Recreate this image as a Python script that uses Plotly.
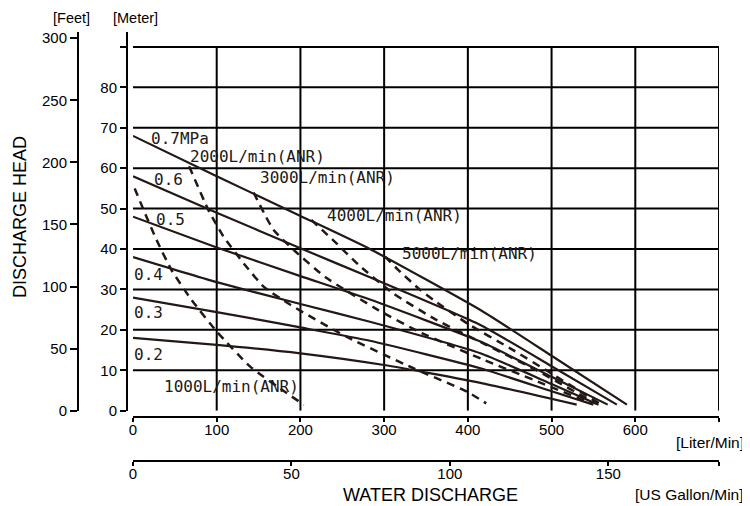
import plotly.graph_objects as go

# ---------------- data ----------------
flow_ticks = [0, 100, 200, 300, 400, 500, 600, 700]          # L/min
flow_labels = ["0", "100", "200", "300", "400", "500", "600", ""]
gal_ticks = [0, 50, 100, 150]                                 # US gal/min
gal_labels = ["0", "50", "100", "150"]
meter_ticks = [0, 10, 20, 30, 40, 50, 60, 70, 80, 90]
meter_labels = ["0", "10", "20", "30", "40", "50", "60", "70", "80", ""]
feet_ticks = [0, 50, 100, 150, 200, 250, 300]
feet_labels = ["0", "50", "100", "150", "200", "250", "300"]

# pressure curves (solid): flow L/min -> head m
p07_x = [0, 100, 200, 283, 415, 500, 590]
p07_y = [68, 58, 48.2, 40, 24.9, 13.6, 1.5]
p06_x = [0, 100, 200, 283, 415, 500, 578]
p06_y = [58, 49, 40.2, 33, 21.2, 11, 1.5]
p05_x = [0, 100, 200, 283, 415, 500, 567]
p05_y = [48, 40.4, 33.3, 27.5, 17.1, 8.4, 1.5]
p04_x = [0, 100, 200, 283, 415, 500, 556]
p04_y = [38, 31.8, 26.4, 22, 14.2, 6.6, 1.5]
p03_x = [0, 100, 200, 283, 415, 500, 550]
p03_y = [28, 24.4, 20.6, 17.3, 10.5, 4.8, 1.5]
p02_x = [0, 100, 200, 300, 415, 530]
p02_y = [18, 16.3, 14.2, 11.3, 6.9, 1.5]

# air consumption curves (dashed)
a1000_x = [2, 12, 28, 46, 70, 100, 140, 184, 204]
a1000_y = [55, 50, 42.3, 34.8, 27.4, 19.6, 10.9, 4.3, 1.5]
a2000_x = [67, 90, 108, 134, 156, 188, 255, 335, 399, 422]
a2000_y = [60.5, 49.7, 43.1, 36, 30.7, 26.2, 18.3, 10.5, 4.7, 1.8]
a3000_x = [144, 168, 194, 230, 293, 345, 420, 480, 548]
a3000_y = [54, 44.7, 39.4, 33, 24.9, 19.2, 12.5, 7.5, 1.8]
a4000_x = [213, 239, 270, 311, 363, 420, 480, 553]
a4000_y = [47.2, 42.2, 36, 29, 22.4, 16.5, 10.2, 1.8]
a5000_x = [301, 317, 343, 359, 400, 450, 500, 557]
a5000_y = [38.1, 34.8, 29.9, 27.4, 21.5, 15.5, 9.2, 1.8]

pressure_labels = ["0.7MPa", "0.6", "0.5", "0.4", "0.3", "0.2"]
air_labels = ["1000L/min(ANR)", "2000L/min(ANR)", "3000L/min(ANR)",
              "4000L/min(ANR)", "5000L/min(ANR)"]

L_PER_GAL = 3.78541
FLOW_MAX = 700
HEAD_MAX = 93.7
FEET_MAX = 305

INK = "#231815"
SANS = "Liberation Sans, Arial, sans-serif"
MONO = "DejaVu Sans Mono, monospace"

W, H = 750, 506
OFF = 8   # page body margin
def px(x):
    return (x - OFF) / W
def py(y):
    return 1 - (y - OFF) / H

fig = go.Figure()

solid = [(p07_x, p07_y), (p06_x, p06_y), (p05_x, p05_y),
         (p04_x, p04_y), (p03_x, p03_y), (p02_x, p02_y)]
for xs, ys in solid:
    fig.add_trace(go.Scatter(x=xs, y=ys, mode="lines",
                             line=dict(color=INK, width=2.2, shape="spline", smoothing=0.5),
                             hoverinfo="skip", showlegend=False))

dashed = [(a1000_x, a1000_y), (a2000_x, a2000_y), (a3000_x, a3000_y),
          (a4000_x, a4000_y), (a5000_x, a5000_y)]
for xs, ys in dashed:
    fig.add_trace(go.Scatter(x=xs, y=ys, mode="lines",
                             line=dict(color=INK, width=2.5, dash="8px,6px",
                                       shape="spline", smoothing=0.5),
                             hoverinfo="skip", showlegend=False))

# anchor trace for secondary axes (invisible)
fig.add_trace(go.Scatter(x=[gal_ticks[0]], y=[feet_ticks[0]], xaxis="x2", yaxis="y2",
                         mode="markers", marker=dict(opacity=0),
                         hoverinfo="skip", showlegend=False))

# grid lines
shapes = []
for m in meter_ticks[1:]:
    shapes.append(dict(type="line", xref="x", yref="y", x0=flow_ticks[0], x1=flow_ticks[-1],
                       y0=m, y1=m, line=dict(color="black", width=2), layer="below"))
for f in flow_ticks[1:]:
    shapes.append(dict(type="line", xref="x", yref="y", x0=f, x1=f,
                       y0=meter_ticks[0], y1=meter_ticks[-1],
                       line=dict(color="black", width=2), layer="below"))

# curve labels (data coordinates, left edge)
lab_pos_p = [(20, 67.4), (24, 57.1), (26, 47.2), (0, 33.6), (0, 24.2), (0, 13.8)]
lab_pos_a = [(34.6, 5.9), (65.7, 62.8), (149.3, 57.8), (229.4, 48.4), (319, 39.0)]
annotations = []
for t, (x, y) in zip(pressure_labels, lab_pos_p):
    annotations.append(dict(text=t, x=x, y=y, xref="x", yref="y", xanchor="left",
                            yanchor="middle", showarrow=False, xshift=-1,
                            font=dict(family=MONO, size=16, color=INK)))
for t, (x, y) in zip(air_labels, lab_pos_a):
    annotations.append(dict(text=t, x=x, y=y, xref="x", yref="y", xanchor="left",
                            yanchor="middle", showarrow=False,
                            font=dict(family=MONO, size=16, color=INK)))

def paper_text(text, x, y, size, xanchor="center", angle=0):
    return dict(text=text, x=px(x), y=py(y), xref="paper", yref="paper",
                xanchor=xanchor, yanchor="middle", showarrow=False, textangle=angle,
                font=dict(family=SANS, size=size, color="black"))

annotations += [
    paper_text("[Feet]", 71.5, 18, 14.5),
    paper_text("[Meter]", 135, 18, 14.5),
    paper_text("DISCHARGE HEAD", 20, 217, 18, angle=-90),
    paper_text("WATER DISCHARGE", 430, 495, 18),
    paper_text("[Liter/Min]", 746, 442, 15.5, xanchor="right"),
    paper_text("[US Gallon/Min]", 746, 494, 15.5, xanchor="right"),
]

axis_common = dict(showgrid=False, zeroline=False, showline=True, linecolor="black",
                   linewidth=2, ticks="outside", tickcolor="black", tickwidth=2,
                   automargin=False,
                   tickfont=dict(family=SANS, size=15, color="black"), fixedrange=True)

fig.update_layout(
    template="none",
    width=W, height=H, autosize=False,
    margin=dict(l=0, r=0, t=0, b=0, pad=0),
    paper_bgcolor="white", plot_bgcolor="white",
    showlegend=False,
    shapes=shapes, annotations=annotations,
    xaxis=dict(domain=[px(133), px(719)], range=[0, FLOW_MAX], anchor="free",
               position=py(416.7), tickvals=flow_ticks, ticktext=flow_labels,
               ticklen=4, ticklabelstandoff=-5, **axis_common),
    xaxis2=dict(overlaying="x", range=[0, FLOW_MAX / L_PER_GAL], anchor="free",
                position=py(460.7), side="bottom",
                tickvals=gal_ticks + [FLOW_MAX / L_PER_GAL], ticktext=gal_labels + [""],
                ticklen=4, ticklabelstandoff=-5, **axis_common),
    yaxis=dict(domain=[py(410.7), py(32)], range=[0, HEAD_MAX], anchor="free",
               position=px(127), tickvals=meter_ticks, ticktext=meter_labels,
               ticklen=6, **axis_common),
    yaxis2=dict(overlaying="y", range=[0, FEET_MAX], anchor="free", position=px(78),
                side="left", tickvals=feet_ticks, ticktext=feet_labels,
                ticklen=7, **axis_common),
)

fig.write_html("out.html")
